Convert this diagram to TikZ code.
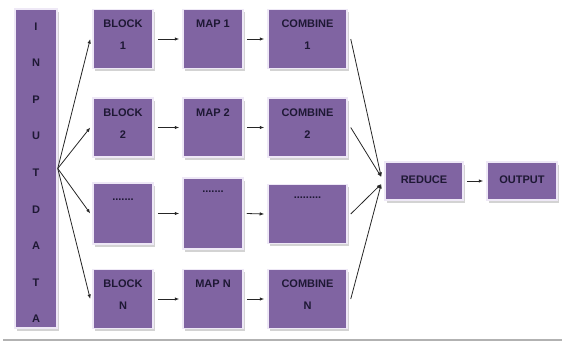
\documentclass[tikz,border=0pt]{standalone}
\usepackage{fontspec}
\setmainfont{Liberation Sans}
\usetikzlibrary{arrows.meta,shadows}

\definecolor{boxpurple}{RGB}{128,100,162}
\definecolor{boxedge}{RGB}{238,232,246}
\definecolor{textnavy}{RGB}{30,24,52}

\begin{document}
\begin{tikzpicture}[x=1pt, y=-1pt,
  box/.style={draw=boxedge, line width=1.5pt, fill=boxpurple, inner sep=0pt,
    minimum width=60pt, minimum height=59pt,
    drop shadow={shadow xshift=1.5pt, shadow yshift=-2.5pt, opacity=0.35}},
  txt/.style={font=\bfseries\fontsize{11}{22}\selectfont, text=textnavy, align=center, inner sep=0pt},
  tag/.style={txt, anchor=north, yshift=-11pt},
  arr/.style={-{Latex[length=4.5pt,width=3.5pt]}, line width=0.8pt, draw=black!85}]

\useasboundingbox (0,0) rectangle (562,343);

% Input column
\node[box, minimum width=42pt, minimum height=319pt,
  label={[tag, yshift=-3pt, font=\bfseries\fontsize{11}{36.6}\selectfont]north:{I\\N\\P\\U\\T\\D\\A\\T\\A}}] (in) at (36,168.5) {};

% Blocks
\node[box, label={[tag]north:{BLOCK\\1}}] (b1) at (123,39) {};
\node[box, label={[tag]north:{BLOCK\\2}}] (b2) at (123,127.5) {};
\node[box, minimum height=61pt, label={[tag, yshift=-5pt]north:{.......}}] (b3) at (123,213.5) {};
\node[box, label={[tag]north:{BLOCK\\N}}] (b4) at (123,299) {};

% Maps
\node[box, label={[tag]north:{MAP 1}}] (m1) at (213,39) {};
\node[box, label={[tag]north:{MAP 2}}] (m2) at (213,127.5) {};
\node[box, minimum height=71pt, label={[tag, yshift=-2pt]north:{.......}}] (m3) at (213,213.5) {};
\node[box, label={[tag]north:{MAP N}}] (m4) at (213,299) {};

% Combiners
\node[box, minimum width=79pt, label={[tag]north:{COMBINE\\1}}] (c1) at (307.5,39) {};
\node[box, minimum width=79pt, label={[tag]north:{COMBINE\\2}}] (c2) at (307.5,127.5) {};
\node[box, minimum width=79pt, label={[tag, yshift=-2pt]north:{.........}}] (c3) at (307.5,214) {};
\node[box, minimum width=79pt, label={[tag]north:{COMBINE\\N}}] (c4) at (307.5,299) {};

% Reduce and output
\node[box, txt, minimum width=78pt, minimum height=38pt] (red) at (424,181) {\raisebox{2pt}{REDUCE}};
\node[box, txt, minimum width=70pt, minimum height=38pt] (out) at (522,181) {\raisebox{2pt}{OUTPUT}};

% Input fan-out
\foreach \b in {b1,b2,b3,b4}
  \draw[arr] (in.east) -- ([xshift=-2pt]\b.west);

% Row arrows
\foreach \i in {1,2,3,4} {
  \draw[arr] ([xshift=4pt]b\i.east) -- ([xshift=-3pt]m\i.west);
  \draw[arr] ([xshift=3pt]m\i.east) -- ([xshift=-3pt]c\i.west);
}

% Fan-in to reduce
\draw[arr] ([xshift=3pt]c1.east) -- ([xshift=-3pt,yshift=4pt]red.west);
\draw[arr] ([xshift=3pt]c2.east) -- ([xshift=-3pt,yshift=4pt]red.west);
\draw[arr] ([xshift=3pt]c3.east) -- ([xshift=-3pt,yshift=-3pt]red.west);
\draw[arr] ([xshift=3pt]c4.east) -- ([xshift=-3pt,yshift=-3pt]red.west);

\draw[arr] ([xshift=3pt]red.east) -- ([xshift=-3pt]out.west);

% bottom rule
\draw[line width=2.5pt, black!30] (3,340) -- (562,340);

\end{tikzpicture}
\end{document}
